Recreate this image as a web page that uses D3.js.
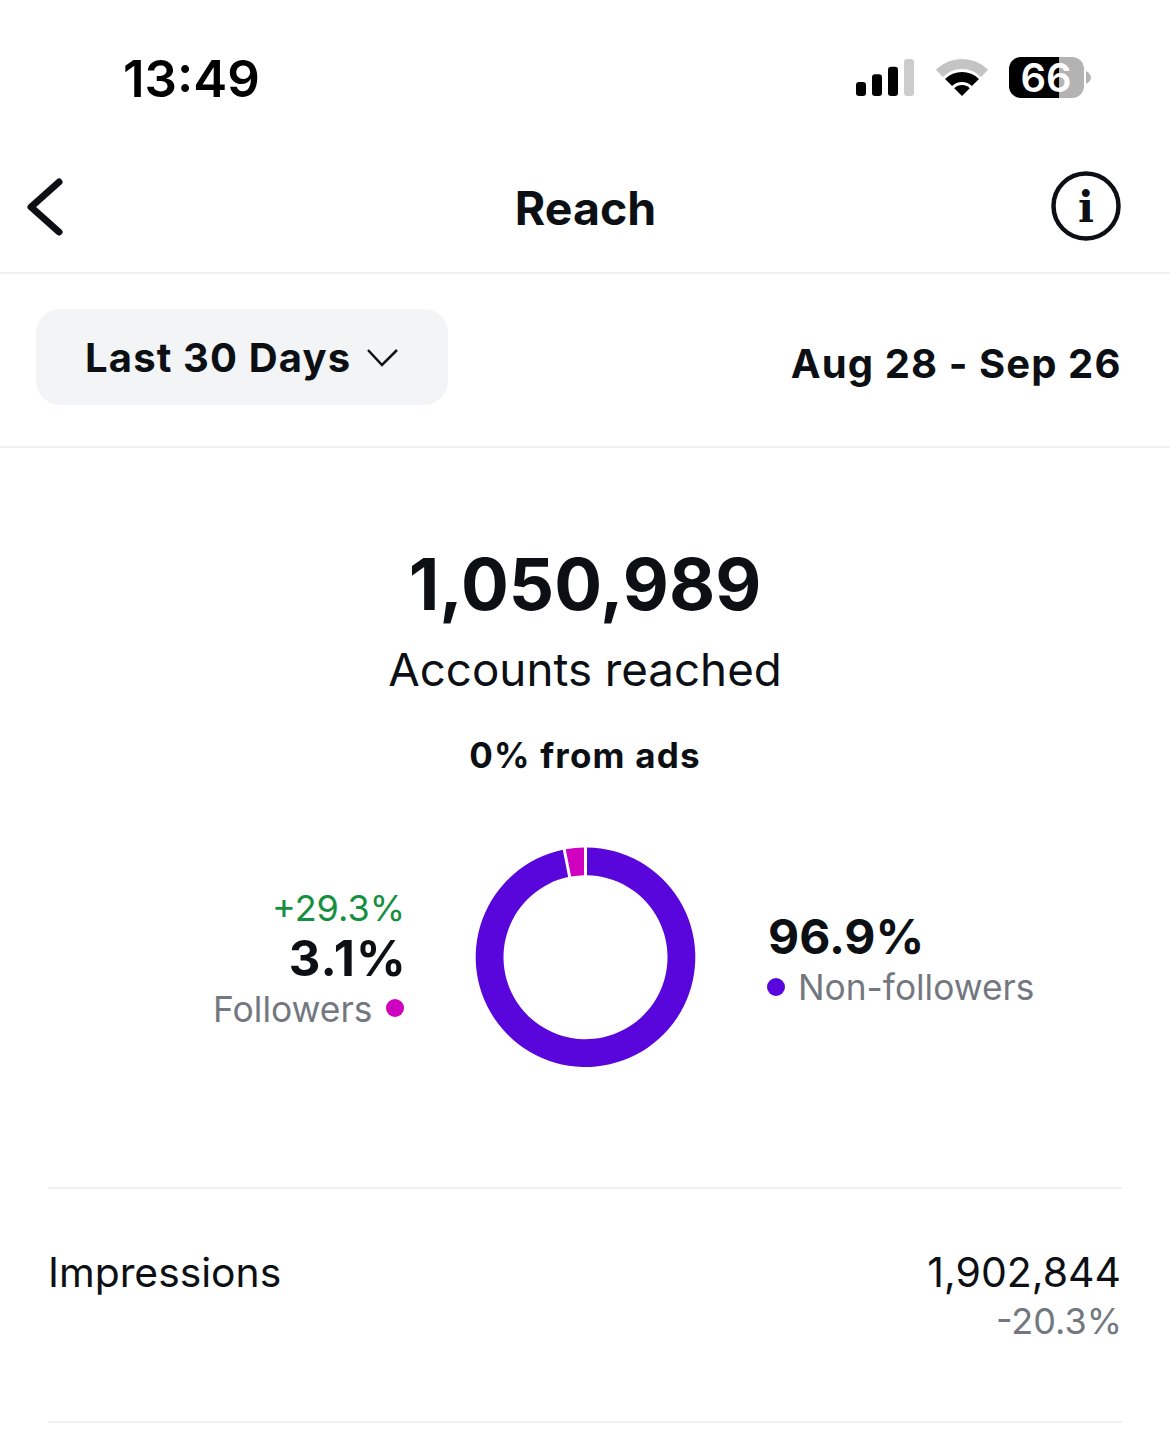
<!DOCTYPE html>
<html>
<head>
<meta charset="utf-8">
<script src="https://cdn.jsdelivr.net/npm/d3@7"></script>
<style>
  html, body { margin: 0; padding: 0; background: #fff; }
  text { font-family: Inter, "Noto Sans", sans-serif; }
</style>
</head>
<body>
<div id="chart"></div>
<script>
// Data
var segmentNames = ['Followers', 'Non-followers'];
var segmentShares = [3.1, 96.9];
var segmentColors = ['#d000c0', '#5806dc'];
var signalLevels = [1, 2, 3, 4];

var width = 1170, height = 1430;
var ink = '#0c1014', grey = '#737880', rule = '#f0f0f0';

var svg = d3.select('#chart').append('svg')
  .attr('width', width)
  .attr('height', height)
  .style('display', 'block');

function label(x, y, str, size, weight, fill, anchor, spacing) {
  return svg.append('text')
    .attr('x', x)
    .attr('y', y)
    .attr('font-size', size)
    .attr('font-weight', weight)
    .attr('fill', fill)
    .attr('text-anchor', anchor || 'start')
    .attr('letter-spacing', spacing || 0)
    .text(str);
}

function hline(x1, x2, y) {
  svg.append('line')
    .attr('x1', x1).attr('x2', x2)
    .attr('y1', y).attr('y2', y)
    .attr('stroke', rule)
    .attr('stroke-width', 2);
}

// Status bar
label(123, 97, '13:49', 51, 600, '#000');

var signalX = d3.scaleBand().domain(signalLevels).range([856, 914]).paddingInner(0.375).paddingOuter(0);
var signalH = d3.scaleLinear().domain([1, 4]).range([14, 37]);
svg.selectAll('.signal').data(signalLevels).enter().append('rect')
  .attr('class', 'signal')
  .attr('x', function(d) { return signalX(d); })
  .attr('y', function(d) { return 96 - signalH(d); })
  .attr('width', signalX.bandwidth())
  .attr('height', function(d) { return signalH(d); })
  .attr('rx', 3)
  .attr('fill', function(d) { return d === 4 ? '#cccccc' : '#000'; });

// wifi fan
var wifi = svg.append('g').attr('transform', 'translate(962,96)');
[[0, 11, '#000'], [14, 24, '#000'], [27, 37, '#c4c4c4']].forEach(function(r) {
  wifi.append('path')
    .attr('d', d3.arc()({innerRadius: r[0], outerRadius: r[1], startAngle: -Math.PI / 4, endAngle: Math.PI / 4}))
    .attr('fill', r[2]);
});

// battery
svg.append('defs').append('clipPath').attr('id', 'batt')
  .append('rect').attr('x', 1009).attr('y', 57).attr('width', 75).attr('height', 41).attr('rx', 12);
var batt = svg.append('g').attr('clip-path', 'url(#batt)');
batt.append('rect').attr('x', 1009).attr('y', 57).attr('width', 50).attr('height', 41).attr('fill', '#000');
batt.append('rect').attr('x', 1059).attr('y', 57).attr('width', 25).attr('height', 41).attr('fill', '#b3b3b3');
label(1046, 92, '66', 40, 600, '#fff', 'middle');
svg.append('path').attr('d', 'M1086,71 Q1091,74 1091,77.5 Q1091,81 1086,84 Z').attr('fill', '#b3b3b3');

// Nav bar
svg.append('path')
  .attr('d', 'M59,182 L31,207 L59,232')
  .attr('fill', 'none')
  .attr('stroke', ink)
  .attr('stroke-width', 7)
  .attr('stroke-linecap', 'round')
  .attr('stroke-linejoin', 'round');
label(585.5, 225, 'Reach', 46.5, 700, ink, 'middle');
svg.append('circle')
  .attr('cx', 1086).attr('cy', 206).attr('r', 32.5)
  .attr('fill', 'none').attr('stroke', ink).attr('stroke-width', 4.5);
label(1086, 222, 'i', 42, 700, ink, 'middle').style('font-family', '"DejaVu Serif"');
hline(0, width, 273);

// Filter row
svg.append('rect')
  .attr('x', 36).attr('y', 309).attr('width', 412).attr('height', 96).attr('rx', 24)
  .attr('fill', '#f3f4f6');
label(85, 372, 'Last 30 Days', 40, 700, ink, 'start', 1.15);
svg.append('path')
  .attr('d', 'M368,350 L382,365 L397,350')
  .attr('fill', 'none').attr('stroke', ink).attr('stroke-width', 2.5);
label(1121.5, 378, 'Aug 28 - Sep 26', 40, 700, ink, 'end', 1.1);
hline(0, width, 447);

// Headline
label(585, 610, '1,050,989', 71, 700, ink, 'middle');
label(585, 686, 'Accounts reached', 45.7, 400, ink, 'middle');
label(585, 768, '0% from ads', 35, 700, ink, 'middle', 1.2);

// Donut
var startAngle = -segmentShares[0] / 100 * 2 * Math.PI;
var pie = d3.pie()
  .startAngle(startAngle)
  .endAngle(startAngle + 2 * Math.PI)
  .value(function(d) { return d; })
  .sort(null);
var arc = d3.arc().innerRadius(82).outerRadius(109.8).padAngle(0.022);
var color = d3.scaleOrdinal().domain(segmentNames).range(segmentColors);

svg.append('g')
  .attr('transform', 'translate(585.5,957.2)')
  .selectAll('.arc')
  .data(pie(segmentShares))
  .enter()
  .append('path')
  .attr('class', 'arc')
  .attr('d', arc)
  .attr('fill', function(d, i) { return color(segmentNames[i]); });

// Left side labels
label(405, 921, '+29.3%', 36, 400, '#15903f', 'end');
label(407, 976, segmentShares[0] + '%', 49, 700, ink, 'end', 1.2);
label(372.5, 1022, segmentNames[0], 35.4, 400, grey, 'end');
svg.append('circle').attr('cx', 395).attr('cy', 1008).attr('r', 9).attr('fill', color(segmentNames[0]));

// Right side labels
label(768, 954, segmentShares[1] + '%', 48, 700, ink);
svg.append('circle').attr('cx', 776).attr('cy', 987).attr('r', 9).attr('fill', color(segmentNames[1]));
label(798, 1000, segmentNames[1], 35.3, 400, grey);

// Impressions row
hline(48, 1122, 1188);
label(48, 1287, 'Impressions', 40.8, 400, ink);
label(1121, 1287, '1,902,844', 41, 400, ink, 'end');
label(1122, 1334, '-20.3%', 36, 400, grey, 'end');
hline(48, 1122, 1422);
</script>
</body>
</html>
